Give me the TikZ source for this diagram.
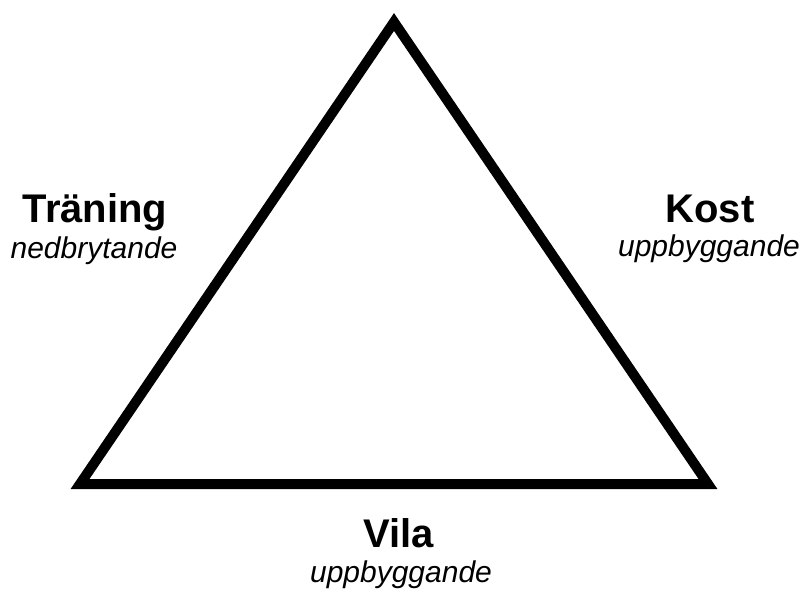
\documentclass[tikz,border=0pt]{standalone}
\usepackage{fontspec}
\setmainfont{Liberation Sans}
\usepackage{tikz}

\tikzset{
  side/.style={line width=7.5pt, line join=miter},
  head/.style={anchor=base, inner sep=0pt, font=\fontsize{30pt}{36pt}\selectfont\bfseries},
  sub/.style={anchor=base, inner sep=0pt, font=\fontsize{22.5pt}{27pt}\selectfont\itshape}
}

\begin{document}
\begin{tikzpicture}[x=0.75pt,y=-0.75pt]
			\useasboundingbox (0,0) rectangle (805,594);
			\coordinate (T) at (394,22);
			\coordinate (L) at (80,484);
			\coordinate (R) at (708,484);
			
			\draw[side] (T)--(R)--(L)--cycle;
			
			\node[head] (tr) at (95,222) {Träning};
			\node[sub] (trs) at (94,258) {nedbrytande};
			\node[head] (ko) at (710,222) {Kost};
			\node[sub] (kos) at (709,256) {uppbyggande};
			\node[head] (vi) at (399,547) {Vila};
			\node[sub] (vis) at (401,582) {uppbyggande};
		\end{tikzpicture}
\end{document}
